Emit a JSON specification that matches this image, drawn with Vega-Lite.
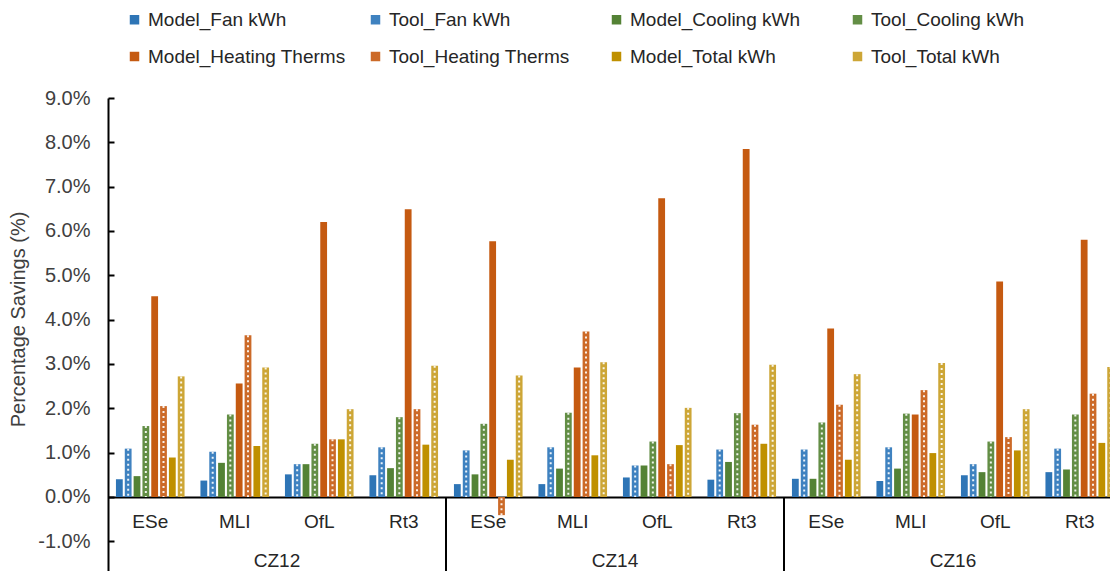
{
  "$schema": "https://vega.github.io/schema/vega-lite/v6.json",
  "autosize": {"type": "none"},
  "padding": {"left": 108, "top": 98, "right": 0, "bottom": 0},
  "width": 1002,
  "height": 473,
  "background": "white",
  "config": {
    "view": {"stroke": null},
    "font": "Liberation Sans",
    "axis": {"grid": false}
  },
  "data": {
    "values": [
      {"cz": "CZ12", "bt": "ESe", "series": "Model_Fan kWh", "v": 0.40},
      {"cz": "CZ12", "bt": "ESe", "series": "Tool_Fan kWh", "v": 1.09},
      {"cz": "CZ12", "bt": "ESe", "series": "Model_Cooling kWh", "v": 0.47},
      {"cz": "CZ12", "bt": "ESe", "series": "Tool_Cooling kWh", "v": 1.60},
      {"cz": "CZ12", "bt": "ESe", "series": "Model_Heating Therms", "v": 4.53},
      {"cz": "CZ12", "bt": "ESe", "series": "Tool_Heating Therms", "v": 2.05},
      {"cz": "CZ12", "bt": "ESe", "series": "Model_Total kWh", "v": 0.89},
      {"cz": "CZ12", "bt": "ESe", "series": "Tool_Total kWh", "v": 2.72},
      {"cz": "CZ12", "bt": "MLI", "series": "Model_Fan kWh", "v": 0.37},
      {"cz": "CZ12", "bt": "MLI", "series": "Tool_Fan kWh", "v": 1.02},
      {"cz": "CZ12", "bt": "MLI", "series": "Model_Cooling kWh", "v": 0.77},
      {"cz": "CZ12", "bt": "MLI", "series": "Tool_Cooling kWh", "v": 1.86},
      {"cz": "CZ12", "bt": "MLI", "series": "Model_Heating Therms", "v": 2.56},
      {"cz": "CZ12", "bt": "MLI", "series": "Tool_Heating Therms", "v": 3.65},
      {"cz": "CZ12", "bt": "MLI", "series": "Model_Total kWh", "v": 1.15},
      {"cz": "CZ12", "bt": "MLI", "series": "Tool_Total kWh", "v": 2.92},
      {"cz": "CZ12", "bt": "OfL", "series": "Model_Fan kWh", "v": 0.51},
      {"cz": "CZ12", "bt": "OfL", "series": "Tool_Fan kWh", "v": 0.74},
      {"cz": "CZ12", "bt": "OfL", "series": "Model_Cooling kWh", "v": 0.74},
      {"cz": "CZ12", "bt": "OfL", "series": "Tool_Cooling kWh", "v": 1.20},
      {"cz": "CZ12", "bt": "OfL", "series": "Model_Heating Therms", "v": 6.20},
      {"cz": "CZ12", "bt": "OfL", "series": "Tool_Heating Therms", "v": 1.30},
      {"cz": "CZ12", "bt": "OfL", "series": "Model_Total kWh", "v": 1.30},
      {"cz": "CZ12", "bt": "OfL", "series": "Tool_Total kWh", "v": 1.98},
      {"cz": "CZ12", "bt": "Rt3", "series": "Model_Fan kWh", "v": 0.49},
      {"cz": "CZ12", "bt": "Rt3", "series": "Tool_Fan kWh", "v": 1.12},
      {"cz": "CZ12", "bt": "Rt3", "series": "Model_Cooling kWh", "v": 0.65},
      {"cz": "CZ12", "bt": "Rt3", "series": "Tool_Cooling kWh", "v": 1.80},
      {"cz": "CZ12", "bt": "Rt3", "series": "Model_Heating Therms", "v": 6.49},
      {"cz": "CZ12", "bt": "Rt3", "series": "Tool_Heating Therms", "v": 1.98},
      {"cz": "CZ12", "bt": "Rt3", "series": "Model_Total kWh", "v": 1.18},
      {"cz": "CZ12", "bt": "Rt3", "series": "Tool_Total kWh", "v": 2.96},
      {"cz": "CZ14", "bt": "ESe", "series": "Model_Fan kWh", "v": 0.29},
      {"cz": "CZ14", "bt": "ESe", "series": "Tool_Fan kWh", "v": 1.05},
      {"cz": "CZ14", "bt": "ESe", "series": "Model_Cooling kWh", "v": 0.51},
      {"cz": "CZ14", "bt": "ESe", "series": "Tool_Cooling kWh", "v": 1.65},
      {"cz": "CZ14", "bt": "ESe", "series": "Model_Heating Therms", "v": 5.77},
      {"cz": "CZ14", "bt": "ESe", "series": "Tool_Heating Therms", "v": -0.41},
      {"cz": "CZ14", "bt": "ESe", "series": "Model_Total kWh", "v": 0.84},
      {"cz": "CZ14", "bt": "ESe", "series": "Tool_Total kWh", "v": 2.74},
      {"cz": "CZ14", "bt": "MLI", "series": "Model_Fan kWh", "v": 0.29},
      {"cz": "CZ14", "bt": "MLI", "series": "Tool_Fan kWh", "v": 1.12},
      {"cz": "CZ14", "bt": "MLI", "series": "Model_Cooling kWh", "v": 0.64},
      {"cz": "CZ14", "bt": "MLI", "series": "Tool_Cooling kWh", "v": 1.90},
      {"cz": "CZ14", "bt": "MLI", "series": "Model_Heating Therms", "v": 2.92},
      {"cz": "CZ14", "bt": "MLI", "series": "Tool_Heating Therms", "v": 3.73},
      {"cz": "CZ14", "bt": "MLI", "series": "Model_Total kWh", "v": 0.94},
      {"cz": "CZ14", "bt": "MLI", "series": "Tool_Total kWh", "v": 3.04},
      {"cz": "CZ14", "bt": "OfL", "series": "Model_Fan kWh", "v": 0.44},
      {"cz": "CZ14", "bt": "OfL", "series": "Tool_Fan kWh", "v": 0.71},
      {"cz": "CZ14", "bt": "OfL", "series": "Model_Cooling kWh", "v": 0.71},
      {"cz": "CZ14", "bt": "OfL", "series": "Tool_Cooling kWh", "v": 1.25},
      {"cz": "CZ14", "bt": "OfL", "series": "Model_Heating Therms", "v": 6.74},
      {"cz": "CZ14", "bt": "OfL", "series": "Tool_Heating Therms", "v": 0.74},
      {"cz": "CZ14", "bt": "OfL", "series": "Model_Total kWh", "v": 1.17},
      {"cz": "CZ14", "bt": "OfL", "series": "Tool_Total kWh", "v": 2.01},
      {"cz": "CZ14", "bt": "Rt3", "series": "Model_Fan kWh", "v": 0.39},
      {"cz": "CZ14", "bt": "Rt3", "series": "Tool_Fan kWh", "v": 1.07},
      {"cz": "CZ14", "bt": "Rt3", "series": "Model_Cooling kWh", "v": 0.79},
      {"cz": "CZ14", "bt": "Rt3", "series": "Tool_Cooling kWh", "v": 1.89},
      {"cz": "CZ14", "bt": "Rt3", "series": "Model_Heating Therms", "v": 7.85},
      {"cz": "CZ14", "bt": "Rt3", "series": "Tool_Heating Therms", "v": 1.63},
      {"cz": "CZ14", "bt": "Rt3", "series": "Model_Total kWh", "v": 1.20},
      {"cz": "CZ14", "bt": "Rt3", "series": "Tool_Total kWh", "v": 2.98},
      {"cz": "CZ16", "bt": "ESe", "series": "Model_Fan kWh", "v": 0.41},
      {"cz": "CZ16", "bt": "ESe", "series": "Tool_Fan kWh", "v": 1.07},
      {"cz": "CZ16", "bt": "ESe", "series": "Model_Cooling kWh", "v": 0.41},
      {"cz": "CZ16", "bt": "ESe", "series": "Tool_Cooling kWh", "v": 1.68},
      {"cz": "CZ16", "bt": "ESe", "series": "Model_Heating Therms", "v": 3.80},
      {"cz": "CZ16", "bt": "ESe", "series": "Tool_Heating Therms", "v": 2.08},
      {"cz": "CZ16", "bt": "ESe", "series": "Model_Total kWh", "v": 0.84},
      {"cz": "CZ16", "bt": "ESe", "series": "Tool_Total kWh", "v": 2.77},
      {"cz": "CZ16", "bt": "MLI", "series": "Model_Fan kWh", "v": 0.36},
      {"cz": "CZ16", "bt": "MLI", "series": "Tool_Fan kWh", "v": 1.12},
      {"cz": "CZ16", "bt": "MLI", "series": "Model_Cooling kWh", "v": 0.64},
      {"cz": "CZ16", "bt": "MLI", "series": "Tool_Cooling kWh", "v": 1.88},
      {"cz": "CZ16", "bt": "MLI", "series": "Model_Heating Therms", "v": 1.86},
      {"cz": "CZ16", "bt": "MLI", "series": "Tool_Heating Therms", "v": 2.41},
      {"cz": "CZ16", "bt": "MLI", "series": "Model_Total kWh", "v": 0.99},
      {"cz": "CZ16", "bt": "MLI", "series": "Tool_Total kWh", "v": 3.02},
      {"cz": "CZ16", "bt": "OfL", "series": "Model_Fan kWh", "v": 0.49},
      {"cz": "CZ16", "bt": "OfL", "series": "Tool_Fan kWh", "v": 0.74},
      {"cz": "CZ16", "bt": "OfL", "series": "Model_Cooling kWh", "v": 0.56},
      {"cz": "CZ16", "bt": "OfL", "series": "Tool_Cooling kWh", "v": 1.25},
      {"cz": "CZ16", "bt": "OfL", "series": "Model_Heating Therms", "v": 4.86},
      {"cz": "CZ16", "bt": "OfL", "series": "Tool_Heating Therms", "v": 1.35},
      {"cz": "CZ16", "bt": "OfL", "series": "Model_Total kWh", "v": 1.05},
      {"cz": "CZ16", "bt": "OfL", "series": "Tool_Total kWh", "v": 1.98},
      {"cz": "CZ16", "bt": "Rt3", "series": "Model_Fan kWh", "v": 0.56},
      {"cz": "CZ16", "bt": "Rt3", "series": "Tool_Fan kWh", "v": 1.09},
      {"cz": "CZ16", "bt": "Rt3", "series": "Model_Cooling kWh", "v": 0.62},
      {"cz": "CZ16", "bt": "Rt3", "series": "Tool_Cooling kWh", "v": 1.86},
      {"cz": "CZ16", "bt": "Rt3", "series": "Model_Heating Therms", "v": 5.80},
      {"cz": "CZ16", "bt": "Rt3", "series": "Tool_Heating Therms", "v": 2.33},
      {"cz": "CZ16", "bt": "Rt3", "series": "Model_Total kWh", "v": 1.22},
      {"cz": "CZ16", "bt": "Rt3", "series": "Tool_Total kWh", "v": 2.93}
    ]
  },
  "transform": [{"calculate": "datum.cz + '|' + datum.bt", "as": "key"}],
  "encoding": {
    "x": {
      "field": "key",
      "type": "nominal",
      "sort": null,
      "scale": {"range": [0, 1014], "paddingInner": 0, "paddingOuter": 0},
      "axis": {
        "title": null,
        "orient": "bottom",
        "offset": -74,
        "ticks": false,
        "labelExpr": "split(datum.value, '|')[1]",
        "labelFontSize": 19,
        "labelColor": "#262626",
        "labelPadding": 15,
        "labelAngle": 0,
        "domainColor": "#000000",
        "domainWidth": 2
      }
    }
  },
  "layer": [
    {
      "mark": {"type": "bar"},
      "encoding": {
        "xOffset": {
          "field": "series",
          "type": "nominal",
          "scale": {
            "domain": ["Model_Fan kWh", "Tool_Fan kWh", "Model_Cooling kWh", "Tool_Cooling kWh", "Model_Heating Therms", "Tool_Heating Therms", "Model_Total kWh", "Tool_Total kWh"],
            "paddingInner": 0.23,
            "paddingOuter": 0.9
          }
        },
        "y": {
          "field": "v",
          "type": "quantitative",
          "scale": {"domain": [-1.67, 9], "nice": false, "zero": false},
          "axis": {
            "title": "Percentage Savings (%)",
            "titleFontSize": 20,
            "titleFontWeight": "normal",
            "titleColor": "#404040",
            "titleX": -80,
            "titleY": 221,
            "values": [-1, 0, 1, 2, 3, 4, 5, 6, 7, 8, 9],
            "labelExpr": "(datum.value < 0 ? '-' : '') + format(abs(datum.value), '.1f') + '%'",
            "labelFontSize": 20,
            "labelColor": "#404040",
            "labelPadding": 24,
            "tickSize": -6,
            "tickColor": "#000000",
            "tickWidth": 2,
            "domainColor": "#000000",
            "domainWidth": 2
          }
        },
        "color": {
          "field": "series",
          "type": "nominal",
          "scale": {
            "domain": ["Model_Fan kWh", "Tool_Fan kWh", "Model_Cooling kWh", "Tool_Cooling kWh", "Model_Heating Therms", "Tool_Heating Therms", "Model_Total kWh", "Tool_Total kWh"],
            "range": ["#2E75B6", "#3F82C0", "#548235", "#638E45", "#C55A11", "#CC6A28", "#BF9000", "#CDA636"]
          },
          "legend": {
            "title": null,
            "orient": "none",
            "legendX": 17,
            "legendY": -88,
            "direction": "horizontal",
            "columns": 4,
            "gridAlign": "all",
            "padding": 0,
            "symbolType": "square",
            "symbolSize": 90,
            "symbolStrokeWidth": 0,
            "labelFontSize": 19,
            "labelColor": "#262626",
            "labelLimit": 300,
            "labelOffset": 4,
            "columnPadding": 20,
            "rowPadding": 17
          }
        }
      }
    },
    {
      "transform": [{"filter": "indexof(datum.series, 'Tool') === 0"}],
      "mark": {"type": "rule", "color": "white", "strokeWidth": 2, "strokeDash": [2, 3], "opacity": 0.9},
      "encoding": {
        "xOffset": {"field": "series", "type": "nominal"},
        "y": {"field": "v", "type": "quantitative"},
        "y2": {"datum": 0}
      }
    },
    {
      "transform": [{"filter": "datum.bt === 'ESe' && datum.series === 'Model_Fan kWh' && datum.cz !== 'CZ12'"}],
      "mark": {"type": "rule", "color": "#000000", "strokeWidth": 2},
      "encoding": {
        "x": {"field": "key", "type": "nominal", "bandPosition": 0},
        "y": {"datum": 0},
        "y2": {"datum": -1.67}
      }
    },
    {
      "transform": [{"filter": "datum.bt === 'MLI' && datum.series === 'Model_Fan kWh'"}],
      "mark": {"type": "text", "fontSize": 19, "color": "#262626", "baseline": "middle", "align": "center"},
      "encoding": {
        "x": {"field": "key", "type": "nominal", "bandPosition": 1},
        "y": {"datum": -1.45},
        "text": {"field": "cz"}
      }
    }
  ]
}
